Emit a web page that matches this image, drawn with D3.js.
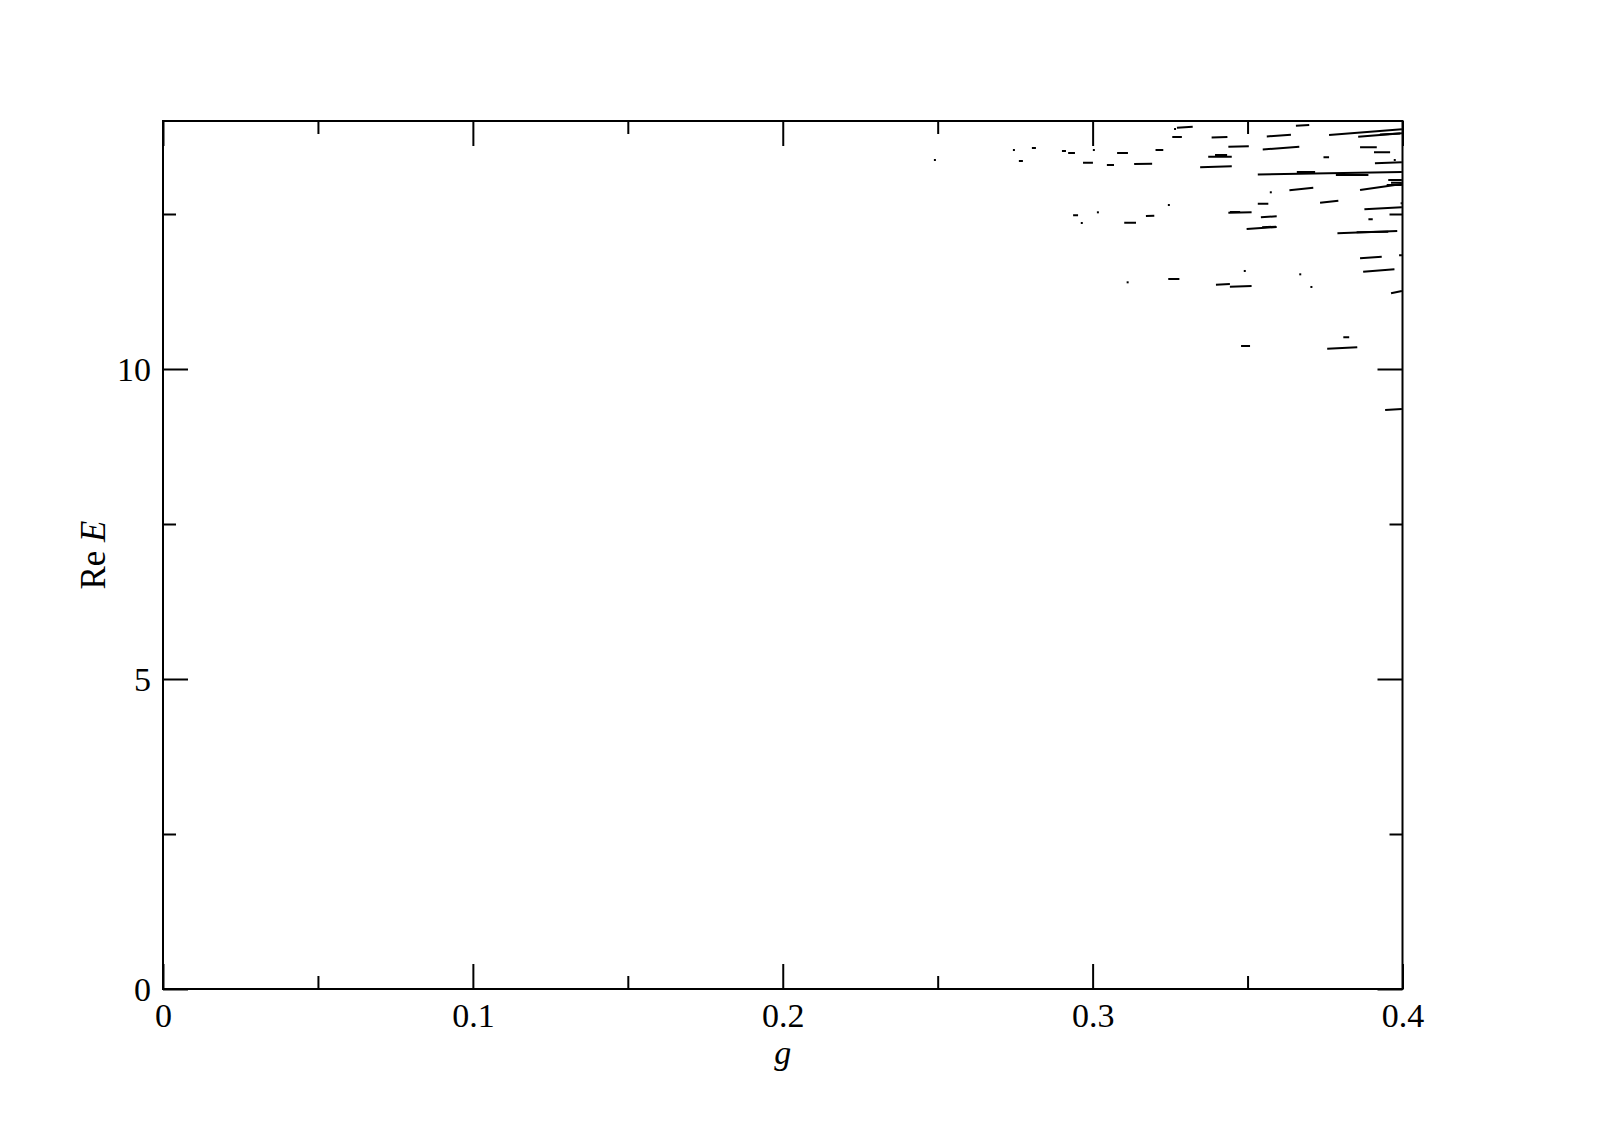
<!DOCTYPE html>
<html>
<head>
<meta charset="utf-8">
<script src="https://cdn.jsdelivr.net/npm/d3@7"></script>
<style>
  html, body { margin: 0; padding: 0; background: #fff; }
  svg { display: block; }
  text { font-family: "Liberation Serif", "Times New Roman", serif; fill: #000; }
</style>
</head>
<body>
<svg id="chart" width="1609" height="1136"></svg>
<script>
// ---- data ----
const xMajorTicks = [0, 0.1, 0.2, 0.3, 0.4];
const xMinorTicks = [0.05, 0.15, 0.25, 0.35];
const xTickLabels = ["0", "0.1", "0.2", "0.3", "0.4"];
const yMajorTicks = [0, 5, 10];
const yMinorTicks = [2.5, 7.5, 12.5];
const yTickLabels = ["0", "5", "10"];

// eigenvalue branch segments: [g0, ReE0, g1, ReE1]
const branchSegments = [
  [0.2804,13.565,0.2817,13.565],
  [0.2762,13.355,0.2775,13.355],
  [0.2901,13.516,0.2914,13.516],
  [0.2921,13.484,0.2943,13.484],
  [0.2969,13.327,0.3001,13.327],
  [0.3046,13.290,0.3069,13.290],
  [0.3079,13.484,0.3114,13.484],
  [0.3134,13.306,0.3192,13.311],
  [0.2937,12.479,0.2953,12.479],
  [0.3102,12.360,0.3140,12.360],
  [0.3172,12.468,0.3199,12.473],
  [0.3272,13.890,0.3323,13.906],
  [0.3257,13.742,0.3288,13.742],
  [0.3384,13.734,0.3435,13.742],
  [0.3562,13.750,0.3640,13.779],
  [0.3203,13.532,0.3228,13.532],
  [0.3438,13.585,0.3504,13.592],
  [0.3549,13.540,0.3667,13.585],
  [0.3373,13.424,0.3449,13.424],
  [0.3347,13.253,0.3449,13.269],
  [0.3533,13.137,0.3998,13.177],
  [0.3533,12.666,0.3567,12.666],
  [0.3438,12.521,0.3513,12.527],
  [0.3543,12.447,0.3594,12.463],
  [0.3497,12.258,0.3594,12.290],
  [0.3656,13.924,0.3699,13.935],
  [0.3763,13.774,0.3998,13.866],
  [0.3857,13.747,0.3998,13.802],
  [0.3863,13.576,0.3917,13.576],
  [0.3908,13.495,0.3960,13.495],
  [0.3745,13.415,0.3763,13.415],
  [0.3911,13.317,0.3998,13.334],
  [0.3954,13.048,0.3998,13.048],
  [0.3963,13.005,0.3998,13.005],
  [0.3863,12.887,0.3998,12.984],
  [0.3949,12.968,0.3998,12.968],
  [0.3635,12.882,0.3712,12.924],
  [0.3734,12.682,0.3793,12.714],
  [0.3877,12.576,0.3998,12.608],
  [0.3994,12.673,0.3998,12.673],
  [0.3890,12.414,0.3904,12.414],
  [0.3790,12.188,0.3983,12.226],
  [0.3863,11.785,0.3933,11.811],
  [0.3989,11.834,0.3998,11.834],
  [0.3873,11.569,0.3974,11.608],
  [0.3963,11.221,0.3998,11.258],
  [0.3244,11.452,0.3280,11.452],
  [0.3398,11.360,0.3443,11.371],
  [0.3443,11.327,0.3513,11.339],
  [0.3479,10.371,0.3508,10.371],
  [0.3809,10.511,0.3828,10.511],
  [0.3757,10.327,0.3854,10.350],
  [0.3944,9.339,0.3998,9.355],
  // overlapping branches
  [0.3395,13.452,0.3434,13.452],
  [0.3659,13.177,0.3718,13.177],
  [0.3785,13.129,0.3890,13.129],
  [0.3443,12.532,0.3476,12.532],
  [0.3547,12.287,0.3592,12.295],
  [0.3927,13.782,0.3992,13.798],
  [0.3852,12.205,0.3954,12.214]
];

// isolated points: g and ReE
const pointG = [0.2491, 0.2746, 0.3004, 0.2965, 0.3017, 0.3266, 0.3575, 0.3246, 0.3975, 0.3670, 0.3706, 0.3113, 0.3491];
const pointE = [13.371, 13.532, 13.532, 12.355, 12.527, 13.871, 12.850, 12.645, 13.371, 11.527, 11.323, 11.398, 11.581];

// ---- layout ----
const L = 163, R = 1402.5, T = 121, B = 989;
const svg = d3.select("#chart");

const x = d3.scaleLinear().domain([0, 0.4]).range([L, R]);
const y = d3.scaleLinear().domain([0, 14]).range([B, T]);

const fontSize = 34;
const majorLen = 25, minorLen = 13;

function styleAxis(g) {
  g.select(".domain").remove();
  g.selectAll(".tick line").attr("stroke", "#000").attr("stroke-width", 2);
  g.selectAll("text").style("font-family", '"Liberation Serif", serif').style("font-size", fontSize + "px").attr("fill", "#000");
}

// bottom axis
const xb = svg.append("g").attr("transform", `translate(0,${B})`)
  .call(d3.axisBottom(x).tickValues(xMajorTicks).tickSize(-majorLen).tickPadding(14)
    .tickFormat((d, i) => xTickLabels[i]))
  .call(styleAxis);
xb.selectAll("text").attr("dy", "0.7em");
svg.append("g").attr("transform", `translate(0,${B})`)
  .call(d3.axisBottom(x).tickValues(xMinorTicks).tickSize(-minorLen).tickFormat(""))
  .call(styleAxis);
// top axis (mirrored)
svg.append("g").attr("transform", `translate(0,${T})`)
  .call(d3.axisTop(x).tickValues(xMajorTicks).tickSize(-majorLen).tickFormat(""))
  .call(styleAxis);
svg.append("g").attr("transform", `translate(0,${T})`)
  .call(d3.axisTop(x).tickValues(xMinorTicks).tickSize(-minorLen).tickFormat(""))
  .call(styleAxis);
// left axis
const yl = svg.append("g").attr("transform", `translate(${L},0)`)
  .call(d3.axisLeft(y).tickValues(yMajorTicks).tickSize(-majorLen).tickPadding(12)
    .tickFormat((d, i) => yTickLabels[i]))
  .call(styleAxis);
yl.selectAll("text").attr("dy", "0.34em");
svg.append("g").attr("transform", `translate(${L},0)`)
  .call(d3.axisLeft(y).tickValues(yMinorTicks).tickSize(-minorLen).tickFormat(""))
  .call(styleAxis);
// right axis (mirrored)
svg.append("g").attr("transform", `translate(${R},0)`)
  .call(d3.axisRight(y).tickValues(yMajorTicks).tickSize(-majorLen).tickFormat(""))
  .call(styleAxis);
svg.append("g").attr("transform", `translate(${R},0)`)
  .call(d3.axisRight(y).tickValues(yMinorTicks).tickSize(-minorLen).tickFormat(""))
  .call(styleAxis);

// data
svg.append("clipPath").attr("id", "plotclip").append("rect")
  .attr("x", L).attr("y", T).attr("width", R - L).attr("height", B - T);
const plot = svg.append("g").attr("clip-path", "url(#plotclip)");

plot.selectAll("line.seg").data(branchSegments).join("line")
  .attr("class", "seg")
  .attr("x1", d => x(d[0])).attr("y1", d => y(d[1]))
  .attr("x2", d => x(d[2])).attr("y2", d => y(d[3]))
  .attr("stroke", "#000").attr("stroke-width", 2);

plot.selectAll("rect.pt").data(pointG.map((g, i) => [g, pointE[i]])).join("rect")
  .attr("class", "pt")
  .attr("x", d => x(d[0]) - 1).attr("y", d => y(d[1]) - 1)
  .attr("width", 2).attr("height", 2).attr("fill", "#000");

// frame
svg.append("rect").attr("x", L).attr("y", T).attr("width", R - L).attr("height", B - T)
  .attr("fill", "none").attr("stroke", "#000").attr("stroke-width", 2);

// axis titles
svg.append("text").attr("x", x(0.2)).attr("y", 1064)
  .attr("text-anchor", "middle").style("font-size", "34px").style("font-style", "italic").text("g");
const yt = svg.append("text").attr("transform", "translate(105,555) rotate(-90)")
  .attr("text-anchor", "middle").style("font-size", "35px");
yt.append("tspan").text("Re ");
yt.append("tspan").style("font-style", "italic").text("E");
</script>
</body>
</html>
